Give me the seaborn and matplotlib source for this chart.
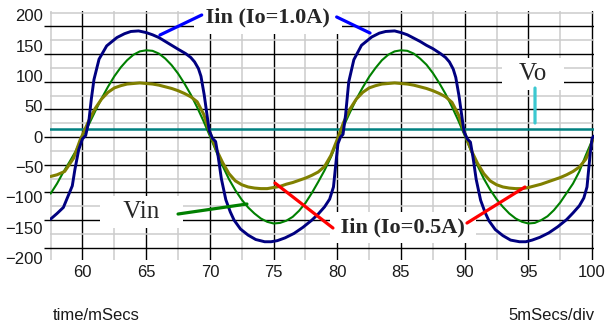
import numpy as np
import pandas as pd
import matplotlib
matplotlib.use("Agg")
import matplotlib.pyplot as plt
from matplotlib.ticker import MultipleLocator
import seaborn as sns

# --- data (time in ms) ---
t_iin1 = [57.5, 58.0, 58.5, 59.2, 59.4, 59.7, 60.0, 60.25, 60.5, 60.7, 60.9, 61.3, 61.9,
          62.7, 63.3, 63.8, 64.4, 65.0, 65.5, 66.0, 66.5, 67.0, 67.5, 68.1, 68.5, 68.8,
          69.1, 69.3, 69.55, 69.8, 69.95, 70.2, 70.45, 70.65, 70.9, 71.25, 71.6, 71.9,
          72.4, 73.0, 73.6, 74.3, 74.8, 75.3, 75.9, 76.6, 77.3, 78.0, 78.5, 79.0, 79.4,
          79.7, 79.9, 80.05, 80.25, 80.45, 80.65, 80.9, 81.3, 81.9, 82.7, 83.3, 83.8,
          84.5, 85.0, 85.5, 86.0, 86.5, 87.0, 87.5, 88.1, 88.5, 88.8, 89.1, 89.3, 89.55,
          89.8, 89.95, 90.2, 90.45, 90.65, 90.9, 91.25, 91.6, 91.9, 92.4, 93.0, 93.6,
          94.3, 94.8, 95.3, 95.9, 96.6, 97.3, 98.0, 98.5, 99.0, 99.35, 99.6, 99.85,
          100.0, 100.15]
iin1 = [-148, -138, -127, -88, -59, -23, -3, 3, 29, 70, 104, 141, 165,
        180, 187, 191, 192, 189, 185, 180, 173, 166, 159, 151, 144, 136,
        124, 110, 77, 36, 12, -2, -8, -35, -75, -113, -135, -150,
        -166, -177, -185, -189, -189, -187, -182, -174, -163, -150, -139, -126, -112,
        -90, -45, -12, 0, 5, 40, 100, 140, 166, 181, 188, 191,
        192, 189, 185, 179, 173, 166, 160, 151, 144, 136, 123, 108, 75,
        34, 10, -3, -9, -36, -76, -114, -136, -151, -167, -178, -186,
        -189, -189, -186, -181, -173, -162, -149, -137, -124, -110, -90, -30,
        -2, 2]

t_vin = [57.5, 58.0, 58.5, 59.0, 59.5, 60.0, 60.5, 61.0, 61.5, 62.0, 62.5, 63.0, 63.5,
         64.0, 64.5, 65.0, 65.5, 66.0, 66.5, 67.0, 67.5, 68.0, 68.5, 69.0, 69.5, 70.0,
         70.5, 71.0, 71.5, 72.0, 72.5, 73.0, 73.5, 74.0, 74.5, 75.0, 75.5, 76.0, 76.5,
         77.0, 77.5, 78.0, 78.5, 79.0, 79.5, 80.0, 80.5, 81.0, 81.5, 82.0, 82.5, 83.0,
         83.5, 84.0, 84.5, 85.0, 85.5, 86.0, 86.5, 87.0, 87.5, 88.0, 88.5, 89.0, 89.5,
         90.0, 90.5, 91.0, 91.5, 92.0, 92.5, 93.0, 93.5, 94.0, 94.5, 95.0, 95.5, 96.0,
         96.5, 97.0, 97.5, 98.0, 98.5, 99.0, 99.5, 100.0, 100.15]
vin = [-102, -84, -63, -44, -24, 2, 23, 47, 70, 91, 110, 126, 139,
       149, 155, 157, 156, 151, 142, 130, 115, 97, 77, 54, 29, 2,
       -26, -52, -76, -96, -113, -127, -138, -147, -153, -156, -155, -151, -144,
       -133, -119, -101, -81, -60, -36, -8, 20, 45, 69, 90, 109, 125,
       139, 149, 155, 157, 156, 151, 142, 131, 116, 98, 78, 55, 30,
       3, -25, -51, -75, -95, -112, -126, -138, -147, -153, -156, -155, -150,
       -143, -132, -118, -101, -84, -62, -33, -6, 2]

t_iin05 = [57.5, 58.0, 58.6, 59.3, 59.8, 60.5, 61.0, 61.5, 62.0, 62.5, 63.0, 63.5, 64.0,
           64.5, 65.0, 65.5, 66.0, 66.5, 67.0, 67.5, 68.0, 68.5, 69.0, 69.5, 70.0, 70.5,
           71.0, 71.5, 72.0, 72.5, 73.0, 73.5, 74.0, 74.5, 75.0, 75.5, 76.0, 76.5, 77.0,
           77.5, 78.0, 78.5, 79.0, 79.5, 80.0, 80.5, 81.0, 81.5, 82.0, 82.5, 83.0, 83.5,
           84.0, 84.5, 85.0, 85.5, 86.0, 86.5, 87.0, 87.5, 88.0, 88.5, 89.0, 89.5, 90.0,
           90.5, 91.0, 91.5, 92.0, 92.5, 93.0, 93.5, 94.0, 94.5, 95.0, 95.5, 96.0, 96.5,
           97.0, 97.5, 98.0, 98.5, 99.0, 99.5, 99.8, 100.0, 100.15]
iin05 = [-71, -68, -62, -38, -6, 30, 52, 69, 81, 89, 93, 96, 97,
         98, 97, 96, 94, 91, 88, 84, 79, 73, 64, 42, 8, -22,
         -46, -66, -79, -86, -90, -92, -93, -93, -91, -89, -85, -82, -78,
         -74, -69, -63, -53, -33, -4, 27, 51, 69, 81, 89, 93, 96,
         97, 98, 97, 96, 94, 91, 88, 84, 79, 73, 63, 41, 7,
         -23, -47, -66, -79, -86, -90, -92, -93, -93, -91, -88, -85, -81,
         -77, -73, -68, -62, -54, -40, -25, -8, 0]

t_vo = [57.4, 100.2]
vo = [15, 15]

x_ticks = [60, 65, 70, 75, 80, 85, 90, 95, 100]
y_ticks = [-200, -150, -100, -50, 0, 50, 100, 150, 200]

iin1_df = pd.DataFrame({"t": t_iin1, "v": iin1})
vin_df = pd.DataFrame({"t": t_vin, "v": vin})
iin05_df = pd.DataFrame({"t": t_iin05, "v": iin05})
vo_df = pd.DataFrame({"t": t_vo, "v": vo})

sns.set_style("white")
plt.rcParams["font.family"] = ["Liberation Sans", "DejaVu Sans"]

fig = plt.figure(figsize=(6.15, 3.26), dpi=100)
ax = fig.add_axes([50 / 615, 66 / 326, 544 / 615, 249 / 326])

sns.lineplot(data=vo_df, x="t", y="v", ax=ax, color="#008080", linewidth=1.8, zorder=4)
sns.lineplot(data=vin_df, x="t", y="v", ax=ax, color="#008000", linewidth=1.5, zorder=5)
sns.lineplot(data=iin05_df, x="t", y="v", ax=ax, color="#808000", linewidth=2.2, zorder=6)
sns.lineplot(data=iin1_df, x="t", y="v", ax=ax, color="#000080", linewidth=2.1, zorder=7)

ax.set_xlim(57.45, 100.15)
ax.set_ylim(-222, 228)
ax.set_xticks(x_ticks)
ax.set_yticks(y_ticks)
ax.xaxis.set_minor_locator(MultipleLocator(2.5))
ax.yaxis.set_minor_locator(MultipleLocator(25))
ax.grid(which="minor", color="#cccccc", linewidth=1.1)
ax.grid(which="major", color="black", linewidth=1.0)
ax.set_axisbelow(True)
ax.tick_params(axis="x", which="both", length=0, pad=3.5, labelsize=12, colors="#1a1a1a")
ax.tick_params(axis="y", which="major", length=4, width=1, color="black", labelleft=False)
ax.tick_params(axis="y", which="minor", length=0)
for s in ax.spines.values():
    s.set_visible(False)
ax.set_xlabel("")
ax.set_ylabel("")

# y labels of the original sit on their own scale, slightly off the grid
lab = ax.twinx()
lab.set_ylim(-203, 207)
lab.set_yticks(y_ticks)
lab.yaxis.set_ticks_position("left")
lab.tick_params(axis="y", length=0, pad=5, labelsize=12, colors="#1a1a1a")
lab.grid(False)
for s in lab.spines.values():
    s.set_visible(False)

# annotations
ax.text(74.56, 217, " Iin (Io=1.0A) ", family="Liberation Serif", weight="bold",
        fontsize=16, ha="center", va="center", zorder=8,
        bbox=dict(facecolor="white", edgecolor="none", boxstyle="square,pad=0.3"))
ax.text(95.36, 115, "  Vo  ", family="Liberation Serif", fontsize=18,
        ha="center", va="center", zorder=8,
        bbox=dict(facecolor="white", edgecolor="none", boxstyle="square,pad=0.2"))
ax.text(64.67, -135, "   Vin   ", family="Liberation Serif", fontsize=18,
        ha="center", va="center", zorder=8,
        bbox=dict(facecolor="white", edgecolor="none", boxstyle="square,pad=0.2"))
ax.text(85.16, -164, " Iin (Io=0.5A) ", family="Liberation Serif", weight="bold",
        fontsize=16, ha="center", va="center", zorder=8,
        bbox=dict(facecolor="white", edgecolor="none", boxstyle="square,pad=0.25"))

def leader(x0, y0, x1, y1, color):
    ax.annotate("", xy=(x1, y1), xytext=(x0, y0), zorder=9, annotation_clip=False,
                arrowprops=dict(arrowstyle="-", color=color, lw=2.3,
                                shrinkA=0, shrinkB=0))

leader(69.36, 220.8, 66.08, 184.6, "#0000ff")
leader(79.95, 217.2, 82.57, 188.2, "#0000ff")
leader(95.52, 88.8, 95.52, 25.6, "#3cc8d0")
leader(67.5, -138.9, 72.91, -120.8, "#008000")
leader(79.66, -164.2, 75.11, -82.9, "#ff0000")
leader(90.18, -155.2, 94.73, -90.1, "#ff0000")

fig.text(53 / 615, 11 / 326, "time/mSecs", fontsize=12, ha="left", va="center", color="#1a1a1a")
fig.text(595 / 615, 11 / 326, "5mSecs/div", fontsize=12, ha="right", va="center", color="#1a1a1a")

fig.savefig("out.png", dpi=100)
